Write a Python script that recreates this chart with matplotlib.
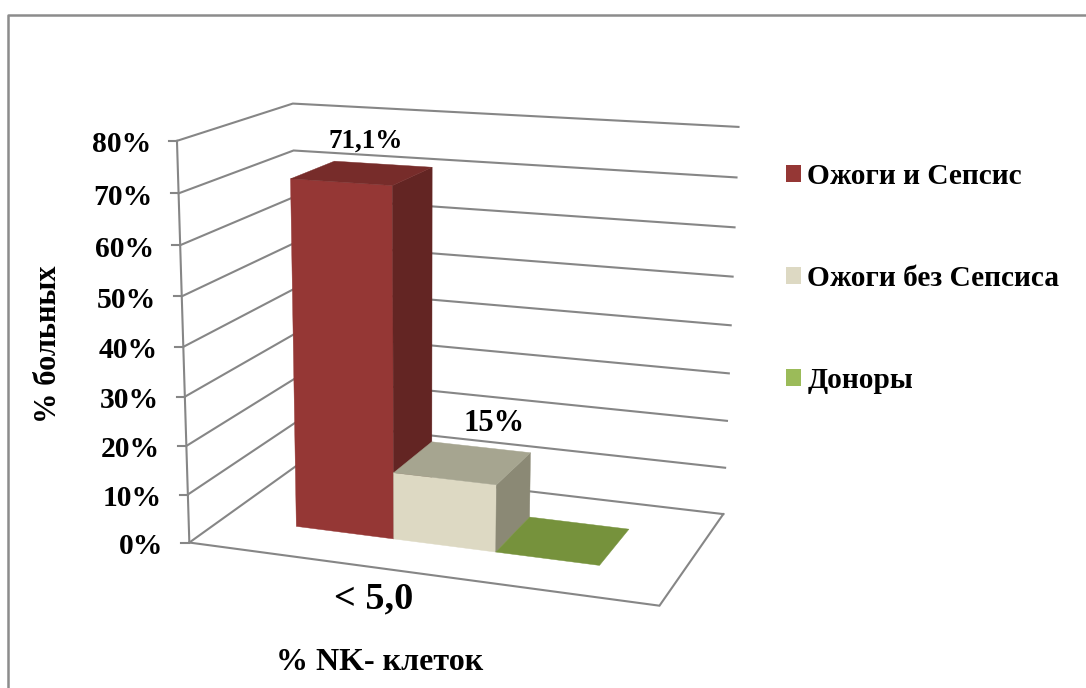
"""
3D column chart, NK cells, redrawn with a small camera model fitted to the walls
"""
import numpy as np
import matplotlib
matplotlib.use('Agg')
import matplotlib.pyplot as plt
from matplotlib.patches import Patch

plt.rcParams['font.family'] = ['Liberation Serif', 'DejaVu Serif']
plt.rcParams['font.weight'] = 'bold'

series = ['Ожоги и Сепсис', 'Ожоги без Сепсиса', 'Доноры']
# heights as drawn; the 15% label is a bit above the drawn cream bar
values = [71.1, 13.8, 0.0]
value_labels = ['71,1%', '15%', None]
ticks = [0, 10, 20, 30, 40, 50, 60, 70, 80]
tick_labels = ['0%', '10%', '20%', '30%', '40%', '50%', '60%', '70%', '80%']

front_colors = ['#953735', '#ddd9c3', '#76923c']
top_colors = ['#772c2a', '#a6a590', '#76923c']
side_colors = ['#632523', '#8b8975', '#76923c']
legend_colors = ['#953735', '#ddd9c3', '#9bbb59']
line_gray = '#868686'

# wall corners (x, value, depth) -> pixel, used to fit the projection
calib_world = [(0, 0, 0), (1, 0, 0), (0, 0, 1), (1, 0, 1),
               (0, 80, 0), (0, 80, 1), (1, 80, 1), (0, 40, 0), (1, 40, 1)]
calib_px = [(191, 542), (660, 606), (297, 465), (723, 514),
            (175, 142), (295, 103), (738, 127), (183, 346), (731, 325)]


def fit_camera(world, px):
    rows = []
    for (x, v, z), (u, w) in zip(world, px):
        X = [x, v / 80, z, 1]
        rows.append(X + [0, 0, 0, 0] + [-u * c for c in X])
        rows.append([0, 0, 0, 0] + X + [-w * c for c in X])
    _, _, vt = np.linalg.svd(np.array(rows, dtype=float))
    return vt[-1].reshape(3, 4)


P = fit_camera(calib_world, calib_px)


def project(x, v, z):
    h = P @ np.array([x, v / 80, z, 1.0])
    return h[0] / h[2], h[1] / h[2]


bar_edges = [0.168, 0.39, 0.614, 0.834]
bar_front = 0.30
bar_back = 0.708

fig = plt.figure(figsize=(10.86, 6.88), dpi=100)
ax = fig.add_axes([0, 0, 1, 1])
ax.set_xlim(0, 1086)
ax.set_ylim(688, 0)
ax.axis('off')

# outer chart border
ax.plot([7.5, 7.5, 1090], [692, 15, 15], color='#8c8c8c', lw=1.8)


def path(points):
    xs, ys = zip(*[project(*p) for p in points])
    ax.plot(xs, ys, color=line_gray, lw=1.5, solid_joinstyle='miter')


# gridlines on the side and back walls, with tick marks and labels
for t, lab in zip(ticks, tick_labels):
    path([(0, t, 0), (0, t, 1), (1, t, 1)])
    u, w = project(0, t, 0)
    ax.plot([u - 8, u], [w, w], color=line_gray, lw=1.5)
    ax.text(u - 26, w + 4, lab, ha='right', va='center', fontsize=21.3)

path([(0, 0, 0), (0, 80, 0)])
path([(0, 0, 0), (1, 0, 0), (1, 0, 1)])


def face(points, color):
    xy = [project(*p) for p in points]
    ax.fill(*zip(*xy), color=color, lw=0.3, zorder=3)


for i, val in enumerate(values):
    x0, x1 = bar_edges[i], bar_edges[i + 1]
    z0, z1 = bar_front, bar_back
    if val > 0:
        face([(x0, 0, z0), (x1, 0, z0), (x1, val, z0), (x0, val, z0)], front_colors[i])
        face([(x1, 0, z0), (x1, 0, z1), (x1, val, z1), (x1, val, z0)], side_colors[i])
    face([(x0, val, z0), (x1, val, z0), (x1, val, z1), (x0, val, z1)], top_colors[i])

label_offsets = [(3, -32), (31, -39)]
label_sizes = [19.5, 22]
for i, lab in enumerate(value_labels):
    if lab is None:
        continue
    u, w = project((bar_edges[i] + bar_edges[i + 1]) / 2, values[i], (bar_front + bar_back) / 2)
    ax.text(u + label_offsets[i][0], w + label_offsets[i][1], lab,
            ha='center', va='center', fontsize=label_sizes[i])

ax.text(374, 599, '< 5,0', ha='center', va='center', fontsize=27.5)
ax.text(380, 663, '% NK- клеток', ha='center', va='center', fontsize=23)
ax.text(49, 344, '% больных', ha='center', va='center', rotation=90, fontsize=22)

handles = [Patch(facecolor=c, edgecolor='none') for c in legend_colors]
ax.legend(handles, series, loc='upper left', bbox_to_anchor=(786, 163),
          bbox_transform=ax.transData, frameon=False, fontsize=21.2,
          handlelength=0.52, handleheight=0.52, handletextpad=0.2,
          labelspacing=2.55, borderpad=0, borderaxespad=0)

fig.savefig('out.png', dpi=100)
